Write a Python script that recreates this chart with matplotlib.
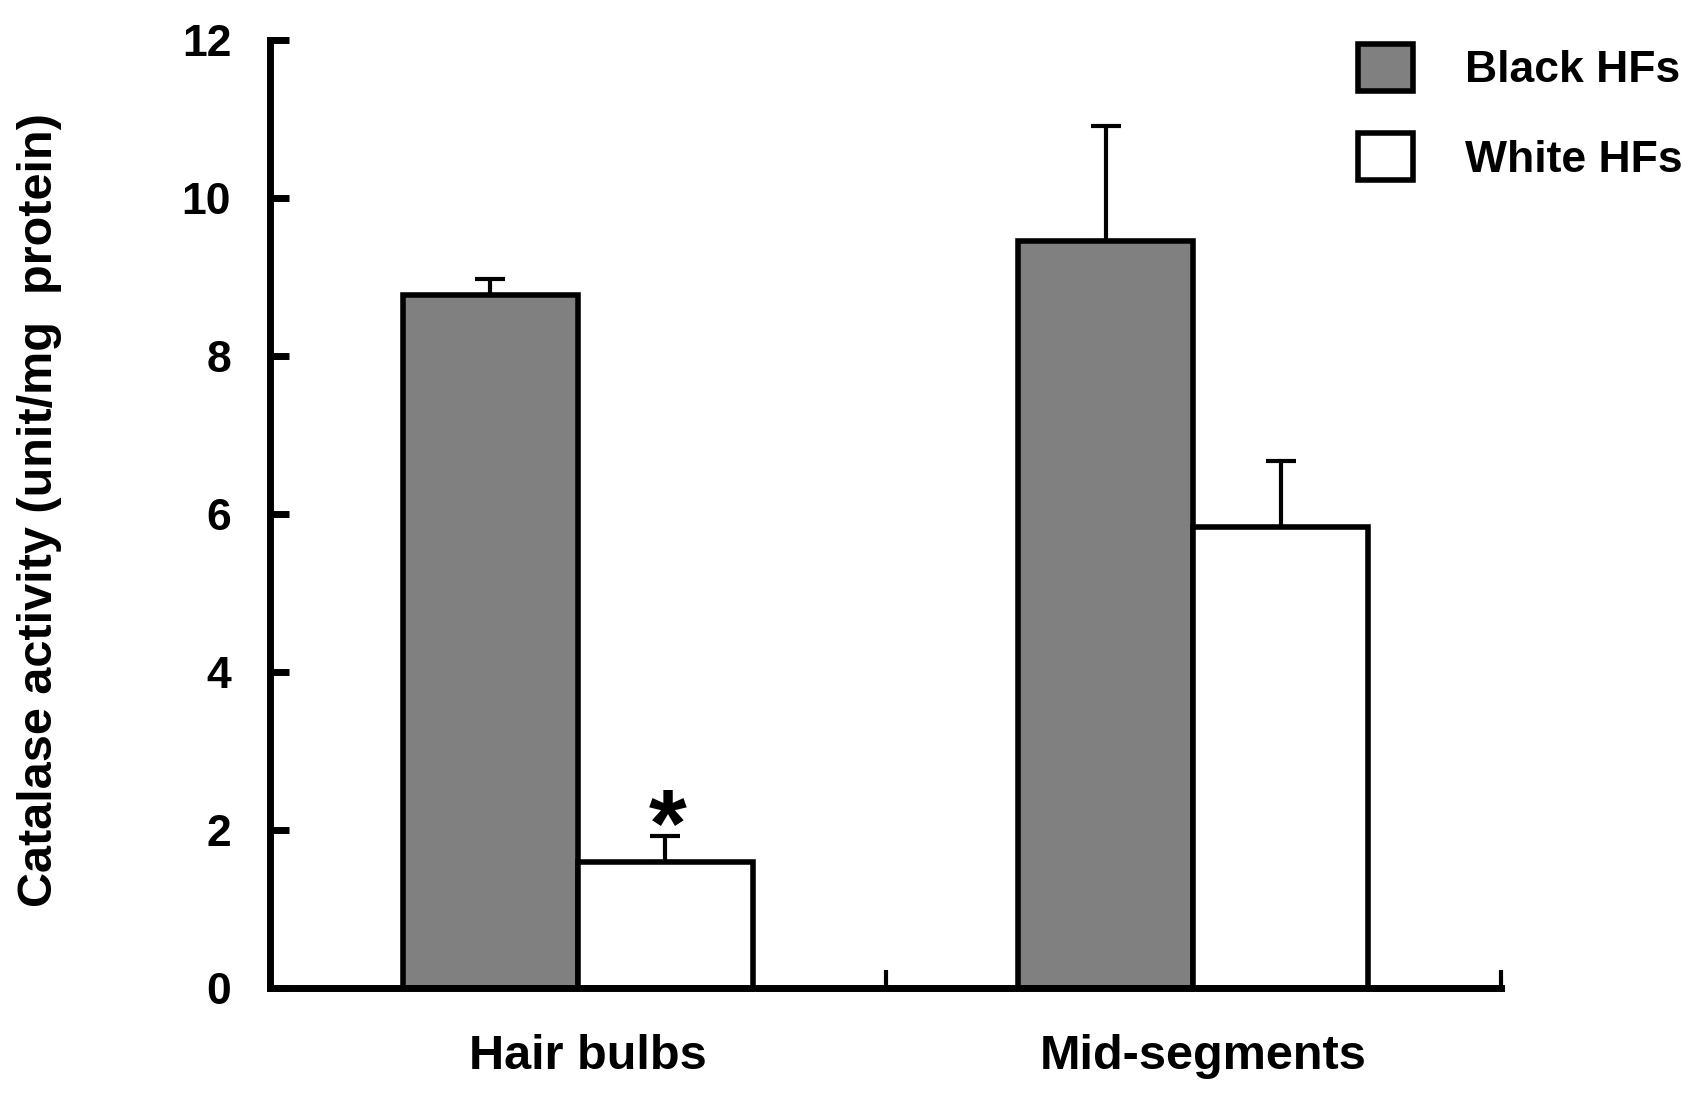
import matplotlib
matplotlib.use("Agg")
import matplotlib.pyplot as plt
import matplotlib.transforms as mtransforms
import numpy as np

plt.rcParams["font.family"] = ["Liberation Sans", "DejaVu Sans"]
plt.rcParams["font.weight"] = "bold"

## Data ---------------------------------------------

groups = ["Hair bulbs", "Mid-segments"]
series = ["Black HFs", "White HFs"]
black_vals = [8.77, 9.46]
black_err = [0.20, 1.45]
white_vals = [1.60, 5.84]
white_err = [0.32, 0.83]
signif = ["*", ""]

FILLS = ["#808080", "#ffffff"]

## Figure -------------------------------------------

fig = plt.figure(figsize=(16.94, 10.94), dpi=100)
ax = fig.add_axes([0.1594, 0.0969, 0.7267, 0.8665])

centers = np.arange(len(groups)) + 0.5
width = 0.284

for i, (vals, errs) in enumerate([(black_vals, black_err), (white_vals, white_err)]):
    xs = centers + (i - 0.5) * width
    ax.bar(xs, vals, width=width, color=FILLS[i], edgecolor="black",
           linewidth=4, label=series[i], zorder=2)
    ax.errorbar(xs, vals, yerr=[np.zeros(len(vals)), errs], fmt="none",
                ecolor="black", elinewidth=3, capsize=11, capthick=3, zorder=1)

# significance marks above the white bars
for x, v, e, s in zip(centers + 0.5 * width, white_vals, white_err, signif):
    if s:
        ax.annotate(s, (x, v + e), xytext=(2, -14), textcoords="offset points",
                    ha="center", va="baseline", fontsize=70, fontweight="bold")

## Axes ---------------------------------------------

ax.set_xlim(0, 2)
ax.set_ylim(0, 12)
for side in ["top", "right"]:
    ax.spines[side].set_visible(False)
for side in ["left", "bottom"]:
    ax.spines[side].set_linewidth(5)

ax.set_yticks(np.arange(0, 13, 2))
ax.tick_params(axis="y", direction="in", length=14, width=5, pad=28, labelsize=32)

ax.set_xticks([0, 1, 2])
ax.set_xticklabels([])
ax.set_xticks(centers, minor=True)
ax.set_xticklabels(groups, minor=True)
ax.tick_params(axis="x", which="major", direction="in", length=13, width=3)
ax.tick_params(axis="x", which="minor", length=0, pad=33, labelsize=35)
shift = mtransforms.ScaledTranslation(10 / 100, 0, fig.dpi_scale_trans)
for lbl in ax.get_xticklabels(minor=True):
    lbl.set_transform(lbl.get_transform() + shift)

fig.text(40 / 1694, 0.534, "Catalase activity (unit/mg  protein)", rotation=90,
         ha="center", va="center", fontsize=35, fontweight="bold")

fig.legend(loc="upper right", bbox_to_anchor=(0.993, 0.960), frameon=False,
           fontsize=32, handlelength=1.25, handleheight=1.25, handletextpad=1.15,
           labelspacing=0.95, borderpad=0, borderaxespad=0)

fig.savefig("out.png", dpi=100)
